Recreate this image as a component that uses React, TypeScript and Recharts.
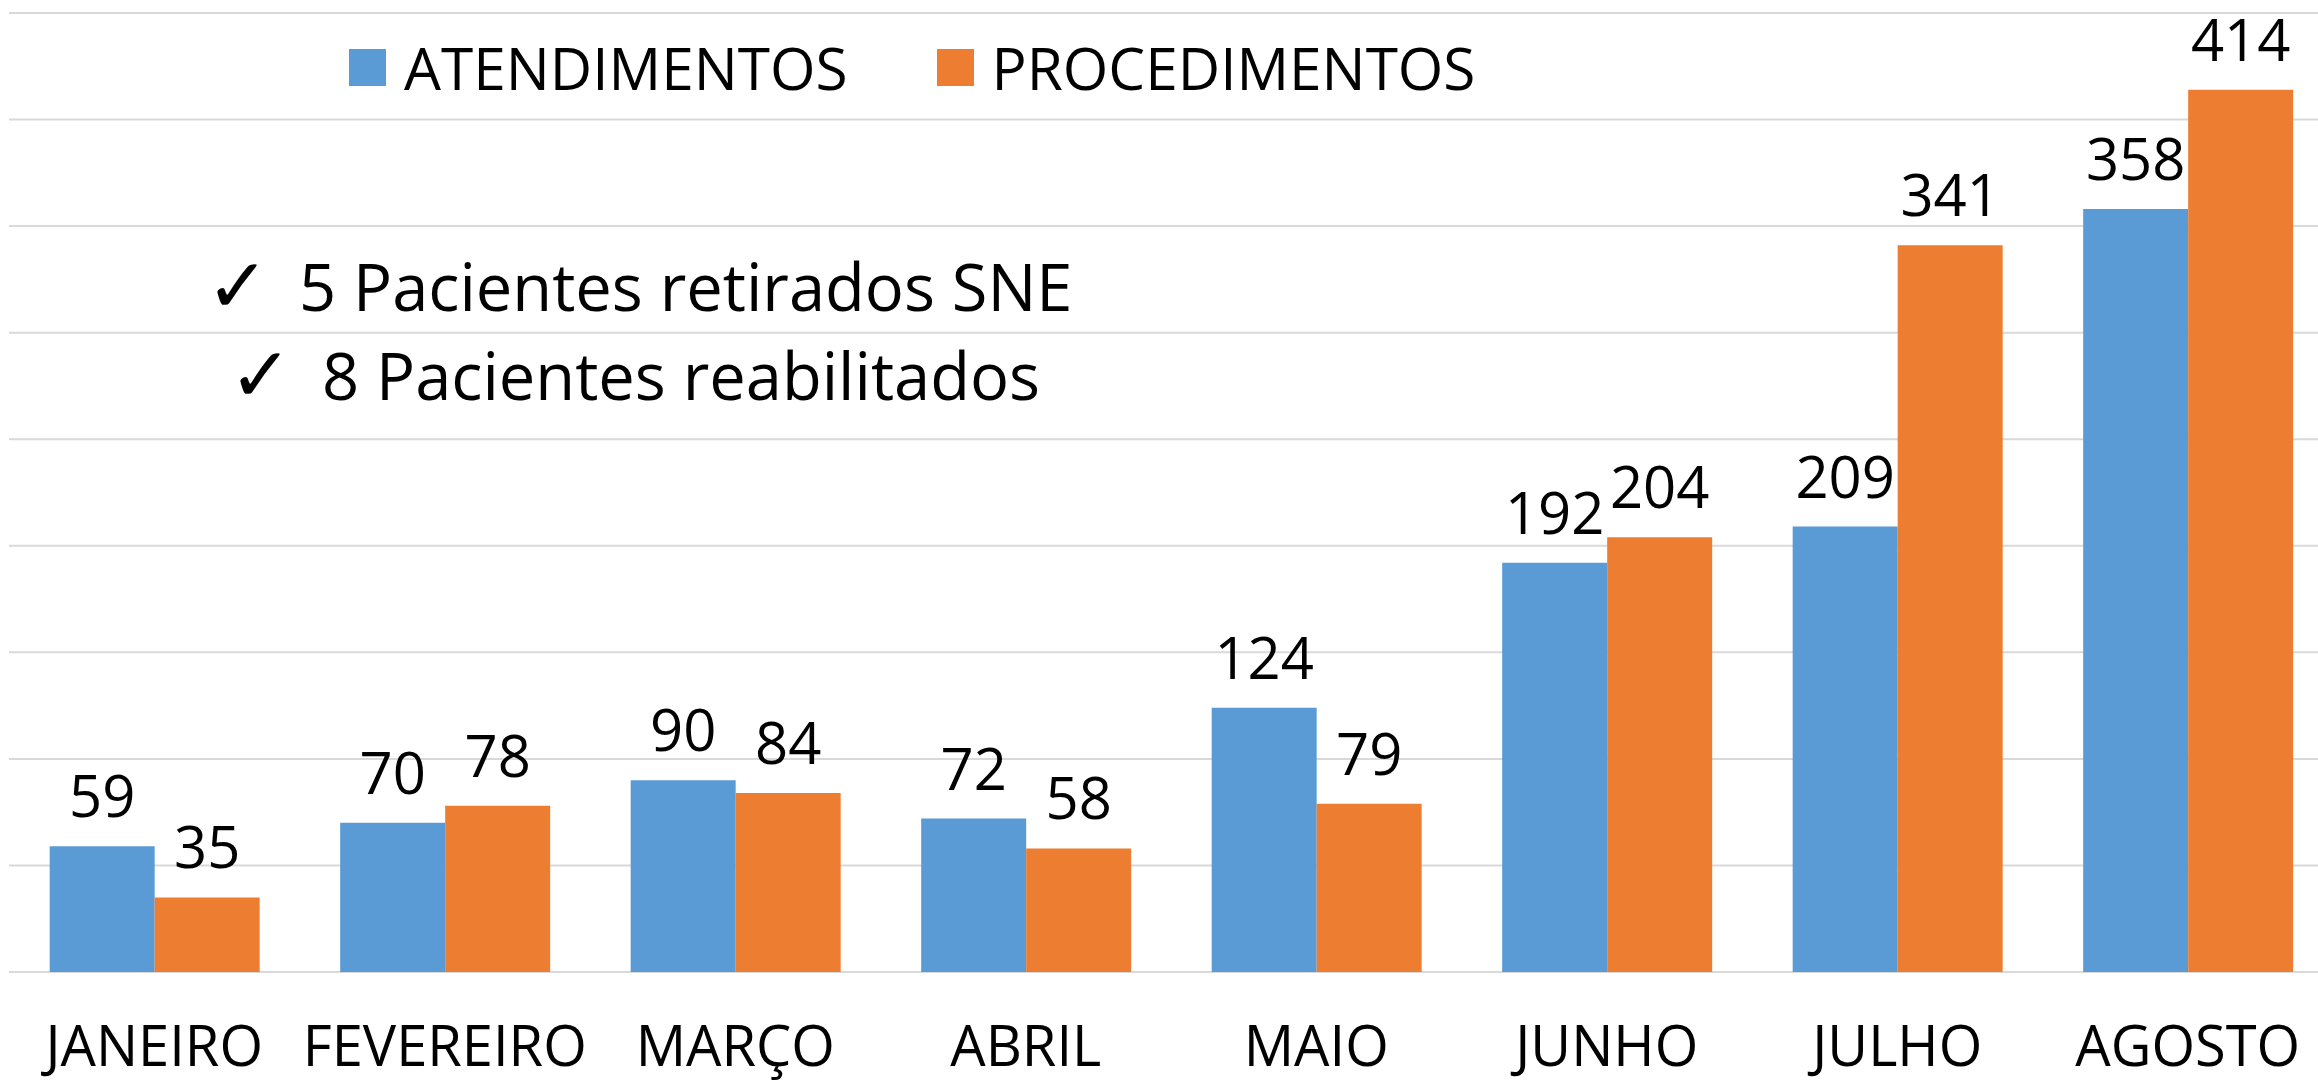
import React from "react"
import { Bar, BarChart, CartesianGrid, LabelList, XAxis, YAxis } from "recharts"

const months = ["JANEIRO", "FEVEREIRO", "MARÇO", "ABRIL", "MAIO", "JUNHO", "JULHO", "AGOSTO"]
const atendimentos = [59, 70, 90, 72, 124, 192, 209, 358]
const procedimentos = [35, 78, 84, 58, 79, 204, 341, 414]
const yTicks = [0, 50, 100, 150, 200, 250, 300, 350, 400, 450]
const notes = ["5 Pacientes retirados SNE", "8 Pacientes reabilitados"]

const series = [
  { key: "atendimentos", name: "ATENDIMENTOS", color: "#5B9BD5" },
  { key: "procedimentos", name: "PROCEDIMENTOS", color: "#ED7D31" },
]

const data = months.map((name, i) => ({
  name,
  atendimentos: atendimentos[i],
  procedimentos: procedimentos[i],
}))

const font = "'Open Sans', sans-serif"

const MonthTick = (props: any) => {
  const { x, y, payload } = props
  return (
    <text x={x} y={y + 86} textAnchor="middle" fontFamily={font} fontSize={56} fill="#000">
      {payload.value}
    </text>
  )
}

const ValueLabel = (props: any) => {
  const { x, y, width, value } = props
  return (
    <text x={x + width / 2} y={y - 29} textAnchor="middle" fontFamily={font} fontSize={58} fill="#000">
      {value}
    </text>
  )
}

export default function App() {
  return (
    <div
      style={{
        position: "absolute",
        left: 0,
        top: 0,
        width: 2318,
        height: 1083,
        overflow: "hidden",
        background: "#fff",
        fontFamily: font,
      }}
    >
      <BarChart
        width={2342}
        height={1083}
        data={data}
        margin={{ top: 13, right: 9, left: 9, bottom: 0 }}
        barCategoryGap="14%"
        barGap={0}
      >
        <CartesianGrid vertical={false} stroke="#D9D9D9" strokeWidth={2} />
        <XAxis dataKey="name" axisLine={false} tickLine={false} height={111} interval={0} tick={<MonthTick />} />
        <YAxis hide domain={[0, 450]} ticks={yTicks} />
        {series.map((s) => (
          <Bar key={s.key} dataKey={s.key} name={s.name} fill={s.color} isAnimationActive={false}>
            <LabelList dataKey={s.key} content={<ValueLabel />} />
          </Bar>
        ))}
      </BarChart>

      <div style={{ position: "absolute", left: 349, top: 30, display: "flex", alignItems: "center" }}>
        {series.map((s, i) => (
          <div key={s.key} style={{ display: "flex", alignItems: "center", marginLeft: i === 0 ? 0 : 89 }}>
            <div style={{ width: 37, height: 37, background: s.color, marginRight: 18 }} />
            <span style={{ fontSize: 58.5, lineHeight: "74px", color: "#000" }}>{s.name}</span>
          </div>
        ))}
      </div>

      {notes.map((n, i) => (
        <div
          key={n}
          style={{
            position: "absolute",
            left: i === 0 ? 206 : 229,
            top: i === 0 ? 242 : 331,
            display: "flex",
            alignItems: "center",
            fontSize: 65,
            lineHeight: "88px",
            color: "#000",
            whiteSpace: "nowrap",
          }}
        >
          <span style={{ fontFamily: "'DejaVu Sans', sans-serif", fontSize: 76, width: 93 }}>✓</span>
          <span>{n}</span>
        </div>
      ))}
    </div>
  )
}
